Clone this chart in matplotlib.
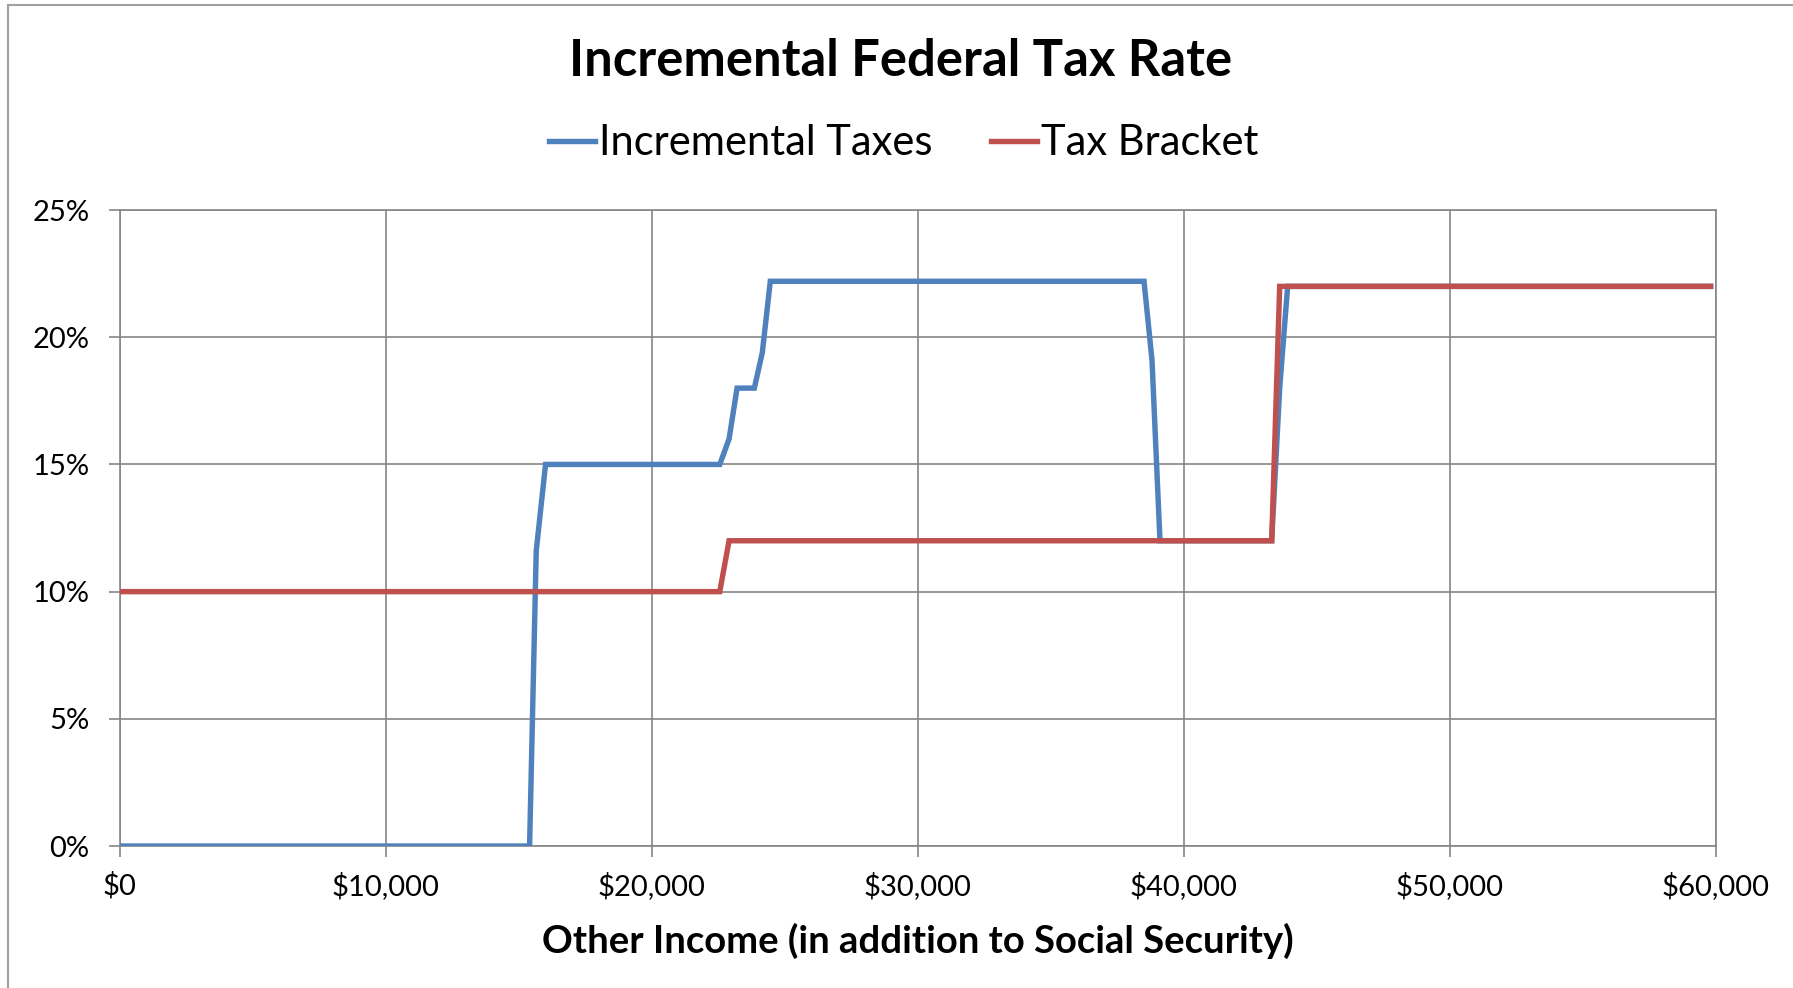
import matplotlib
matplotlib.use("Agg")
import matplotlib.pyplot as plt
import matplotlib.patches as patches
from matplotlib.ticker import FuncFormatter, MultipleLocator

# Other income ($) and incremental federal rate (%)
BLUE_X = [0, 15400, 15650, 16000, 22550, 22900, 23200, 23850, 24150, 24450,
          38500, 38800, 39100, 43300, 43600, 43900, 59800]
BLUE_Y = [0, 0, 11.6, 15, 15, 16, 18, 18, 19.4, 22.2,
          22.2, 19.1, 12, 12, 18, 22, 22]

RED_X = [0, 22550, 22900, 43300, 43600, 59800]
RED_Y = [10, 10, 12, 12, 22, 22]

SERIES_NAMES = ["Incremental Taxes", "Tax Bracket"]
TITLE = "Incremental Federal Tax Rate"
XLABEL = "Other Income (in addition to Social Security)"

BLUE = "#4F81BD"
RED = "#C0504D"
GRID = "#868686"
FONT = ["Lato", "DejaVu Sans"]

fig = plt.figure(figsize=(17.93, 9.88), dpi=100)
ax = fig.add_axes([0.0669, 0.1437, 0.8901, 0.6437])

ax.plot(BLUE_X, BLUE_Y, color=BLUE, lw=3.9, label=SERIES_NAMES[0],
        solid_joinstyle="miter", zorder=3)
ax.plot(RED_X, RED_Y, color=RED, lw=3.9, label=SERIES_NAMES[1],
        solid_joinstyle="miter", zorder=4)

ax.set_xlim(0, 60000)
ax.set_ylim(0, 25)
ax.xaxis.set_major_locator(MultipleLocator(10000))
ax.yaxis.set_major_locator(MultipleLocator(5))
ax.xaxis.set_major_formatter(FuncFormatter(lambda v, p: f"${v:,.0f}"))
ax.yaxis.set_major_formatter(FuncFormatter(lambda v, p: f"{v:.0f}%"))
ax.grid(True, color=GRID, lw=1.2, zorder=1)
ax.set_axisbelow(True)
for s in ax.spines.values():
    s.set_color(GRID)
    s.set_linewidth(1.2)
ax.tick_params(direction="out", length=8, width=1.2, color=GRID,
               labelsize=21)
ax.tick_params(axis="x", pad=11)
ax.tick_params(axis="y", pad=14)
for lab in ax.get_xticklabels() + ax.get_yticklabels():
    lab.set_family(FONT)

ax.set_xlabel(XLABEL, fontsize=27.5, fontweight="bold", family=FONT, labelpad=16)

fig.text(0.502, 0.938, TITLE, ha="center", va="center", fontsize=36.5,
         fontweight="bold", family=FONT)

leg = fig.legend(loc="center", bbox_to_anchor=(0.504, 0.855), ncol=2,
                 frameon=False, handlelength=1.1,
                 handletextpad=0.1, columnspacing=1.4,
                 prop={"family": FONT, "size": 30})

# outer chart-area border
fig.add_artist(patches.Rectangle((8 / 1793, -0.05), 1.2, 1 - 5 / 988 + 0.05,
                                 transform=fig.transFigure, fill=False,
                                 edgecolor="#A0A0A0", lw=1.5))

fig.savefig("out.png", dpi=100)
